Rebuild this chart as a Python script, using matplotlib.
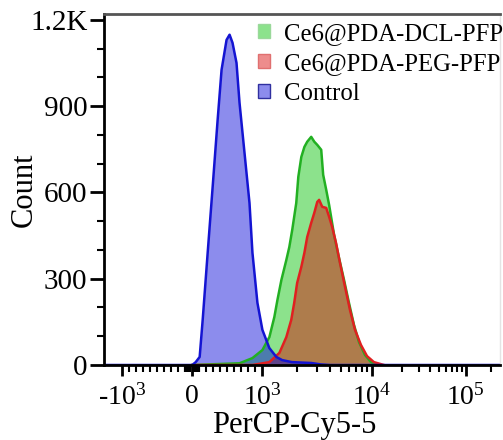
import matplotlib
matplotlib.use("Agg")
import matplotlib.pyplot as plt
import numpy as np
from matplotlib.patches import Patch
from matplotlib.ticker import FixedLocator

# PerCP-Cy5-5 intensity vs count
control_x = [-1500, 0, 50, 106, 149, 220, 291, 362, 418, 489, 532, 574, 631,
             674, 745, 816, 858, 929, 1000, 1146, 1317, 1481, 1805, 2682,
             3281, 4000, 262144]
control_y = [0, 0, 10, 28, 157, 390, 619, 852, 1026, 1130, 1148, 1120, 1050,
             911, 737, 563, 390, 216, 122, 59, 28, 17, 10, 7, 2, 0, 0]

dcl_x = [0, 674, 858, 1000, 1147, 1266, 1346, 1458, 1609, 1709, 1814, 1968,
         2053, 2183, 2326, 2466, 2679, 2858, 3041, 3304, 3443, 3672, 3908,
         4345, 4831, 5383, 5998, 6699, 7482, 8551, 9795, 11750]
dcl_y = [0, 6, 24, 52, 97, 167, 226, 296, 365, 410, 470, 563, 654, 723, 758,
         776, 793, 776, 765, 748, 661, 609, 556, 452, 372, 296, 216, 139, 80,
         35, 10, 0]

peg_x = [0, 858, 1147, 1400, 1609, 1778, 1888, 2004, 2183, 2326, 2466, 2679,
         2858, 3041, 3162, 3373, 3672, 3908, 4169, 4529, 4932, 5508, 6138,
         6855, 7810, 8954, 10470, 13180]
peg_y = [0, 0, 10, 42, 97, 157, 216, 285, 341, 390, 445, 494, 529, 567, 574,
         550, 546, 515, 480, 424, 355, 271, 191, 122, 70, 31, 10, 0]

labels = ["Ce6@PDA-DCL-PFP", "Ce6@PDA-PEG-PFP", "Control"]

x_major = [-1000, 0, 1000, 10000, 100000]
x_major_labels = ["-$10^{3}$", "0", "$10^{3}$", "$10^{4}$", "$10^{5}$"]
y_major = [0, 300, 600, 900, 1200]
y_major_labels = ["0", "300", "600", "900", "1.2K"]

# logicle-like axis: linear inside +-1e3, compressed log outside
A, B = 1.673, -0.113


def fwd(x):
    x = np.asarray(x, dtype=float)
    ax_ = np.abs(x)
    u = np.log10(np.maximum(ax_, 1000.0)) - 3
    return np.where(ax_ <= 1000, x / 1000.0, np.sign(x) * (1 + A * u + B * u * u))


def inv(t):
    t = np.asarray(t, dtype=float)
    at = np.abs(t)
    disc = np.maximum(A * A + 4 * B * (at - 1), 0)
    u = (-A + np.sqrt(disc)) / (2 * B)
    return np.where(at <= 1, t * 1000.0, np.sign(t) * 10 ** (3 + u))


plt.rcParams["font.family"] = ["Liberation Serif", "DejaVu Serif"]
plt.rcParams["mathtext.fontset"] = "custom"
plt.rcParams["mathtext.rm"] = "Liberation Serif"
plt.rcParams["mathtext.it"] = "Liberation Serif:italic"

fig = plt.figure(figsize=(5.03, 4.40), dpi=100)
ax = fig.add_axes([104 / 503, 75 / 440, 396 / 503, 351 / 440])
ax.set_xscale("function", functions=(fwd, inv))

green_line, green_fill = "#22b022", (0.0, 0.75, 0.0, 0.45)
red_line, red_fill = "#e02020", (0.85, 0.0, 0.0, 0.45)
blue_line, blue_fill = "#1414d2", (0.0, 0.0, 0.85, 0.45)

ax.fill_between(dcl_x, dcl_y, color=green_fill, lw=0)
ax.plot(dcl_x, dcl_y, color=green_line, lw=1.8)
ax.fill_between(peg_x, peg_y, color=red_fill, lw=0)
ax.plot(peg_x, peg_y, color=red_line, lw=1.8)
ax.fill_between(control_x, control_y, color=blue_fill, lw=0)
ax.plot(control_x, control_y, color=blue_line, lw=1.8)

ax.set_xlim(-1430, 262144)
ax.set_ylim(0, 1220)

x_minor = (list(range(-900, 0, 100)) + list(range(-100, 101, 25))
           + list(range(100, 1000, 100)) + list(range(2000, 10000, 1000))
           + list(range(20000, 100000, 10000)) + [200000])
ax.xaxis.set_major_locator(FixedLocator(x_major))
ax.xaxis.set_minor_locator(FixedLocator(x_minor))
ax.set_xticklabels(x_major_labels)
ax.yaxis.set_major_locator(FixedLocator(y_major))
ax.yaxis.set_minor_locator(FixedLocator([100, 200, 400, 500, 700, 800, 1000, 1100]))
ax.set_yticklabels(y_major_labels)

ax.tick_params(axis="both", which="major", width=2, color="black")
ax.tick_params(axis="y", which="major", labelsize=21, length=10, pad=2)
ax.tick_params(axis="y", which="minor", length=5, width=1.5)
ax.tick_params(axis="x", which="major", labelsize=20, length=8, pad=5.5)
ax.tick_params(axis="x", which="minor", length=5, width=1.5)

ax.spines["left"].set_linewidth(2)
ax.spines["bottom"].set_linewidth(2)
ax.spines["top"].set_color("#555555")
ax.spines["top"].set_linewidth(2)
ax.spines["right"].set_color("#e4e4e4")
ax.spines["right"].set_linewidth(1)

ax.set_xlabel("PerCP-Cy5-5", fontsize=22)
ax.set_ylabel("Count", fontsize=22)
ax.xaxis.set_label_coords(0.48, -0.131)
ax.yaxis.set_label_coords(-0.165, 0.5)

handles = [
    Patch(facecolor=green_fill, edgecolor="#9ad89a", lw=1),
    Patch(facecolor=red_fill, edgecolor="#e07070", lw=1),
    Patch(facecolor=blue_fill, edgecolor="#3030a0", lw=1),
]
ax.legend(handles, labels, loc="upper left", bbox_to_anchor=(0.357, 1.01),
          frameon=False, fontsize=17.8, handlelength=0.5, handleheight=0.5,
          handletextpad=0.55, labelspacing=0.33, borderaxespad=0.1)

fig.savefig("out.png", dpi=100)
